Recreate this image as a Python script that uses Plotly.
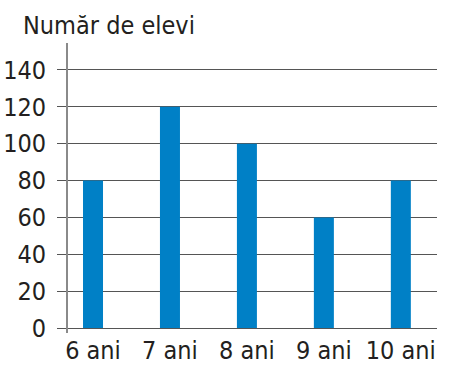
import plotly.graph_objects as go

# Număr de elevi pe vârstă
categorii = ["6 ani", "7 ani", "8 ani", "9 ani", "10 ani"]
elevi = [80, 120, 100, 60, 80]
y_ticks = [0, 20, 40, 60, 80, 100, 120, 140]

FONT = "Liberation Sans Narrow, DejaVu Sans Condensed, Roboto, sans-serif"
TEXT = "#231f20"
GRID = "#555555"

fig = go.Figure(
    go.Bar(
        x=list(range(len(categorii))),
        y=elevi,
        width=0.26,
        marker=dict(color="#0080c6", line=dict(width=0)),
    )
)

fig.update_layout(
    width=452,
    height=365,
    margin=dict(l=68, r=15, t=43, b=32, autoexpand=False),
    paper_bgcolor="white",
    plot_bgcolor="white",
    showlegend=False,
    font=dict(family=FONT, color=TEXT, size=25),
    annotations=[
        dict(
            text="Număr de elevi",
            xref="paper", yref="paper",
            x=-0.127, y=1.06,
            xanchor="left", yanchor="middle",
            showarrow=False,
            font=dict(family=FONT, size=25, color=TEXT),
        )
    ],
)

fig.update_xaxes(
    range=[-0.325, 4.47],
    tickvals=list(range(len(categorii))),
    ticktext=categorii,
    showgrid=False,
    zeroline=False,
    showline=False,
    ticks="",
    automargin=False,
    ticklabelstandoff=0,
    tickfont=dict(size=25),
)

fig.update_yaxes(
    range=[-2.7, 154.6],
    tickvals=y_ticks,
    showgrid=True,
    gridcolor=GRID,
    gridwidth=1.4,
    zeroline=False,
    showline=True,
    linecolor="#8a8a8a",
    linewidth=1.8,
    ticks="outside",
    ticklen=9,
    tickcolor=GRID,
    tickwidth=1.4,
    automargin=False,
    ticklabelstandoff=6,
    tickfont=dict(size=25),
)

fig.write_html("out.html")
